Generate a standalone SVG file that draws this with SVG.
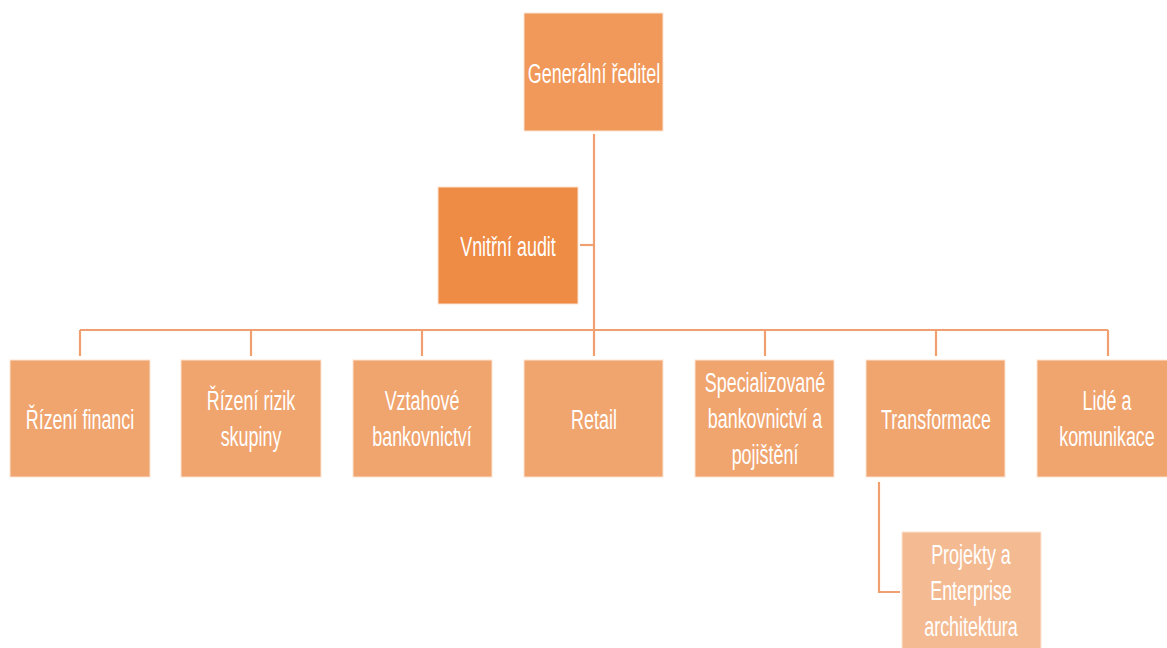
<svg xmlns="http://www.w3.org/2000/svg" width="1167" height="648" viewBox="0 0 1167 648">
  <style>
    .box { stroke: #fbe3d2; stroke-width: 1; }
    .top { fill: #f0995a; }
    .audit { fill: #ee8b45; }
    .unit { fill: #f0a46e; }
    .sub { fill: #f4bb93; }
    .lbl { font-family: "Liberation Sans", Arial, sans-serif; font-size: 28px; fill: #ffffff; text-anchor: middle; }
    .conn { fill: none; stroke: #f0a070; stroke-width: 2.2; }
  </style>
  <rect width="1167" height="648" fill="#ffffff"/>

  <g id="connectors">
    <path class="conn" d="M594 134 V330"/>
    <path class="conn" d="M580 245 H594"/>
    <path class="conn" d="M80 330 H1108"/>
    <path class="conn" d="M80 330 V356 M251 330 V356 M422 330 V356 M594 330 V356 M765 330 V356 M936 330 V356 M1108 330 V356"/>
    <path class="conn" d="M879 482 V592 H900"/>
  </g>

  <!-- labels use a horizontally condensed sans: scale(0.64 1) around the box centre -->
  <g id="node-generalni-reditel">
    <rect class="box top" x="524" y="13" width="139" height="118"/>
    <g transform="translate(594 0) scale(0.64 1)"><text class="lbl" x="0" y="83">Generální ředitel</text></g>
  </g>

  <g id="node-vnitrni-audit">
    <rect class="box audit" x="438" y="187" width="140" height="117"/>
    <g transform="translate(508 0) scale(0.64 1)"><text class="lbl" x="0" y="256">Vnitřní audit</text></g>
  </g>

  <g id="node-rizeni-financi">
    <rect class="box unit" x="10" y="360" width="140" height="117"/>
    <g transform="translate(80 0) scale(0.64 1)"><text class="lbl" x="0" y="429">Řízení financi</text></g>
  </g>

  <g id="node-rizeni-rizik">
    <rect class="box unit" x="181" y="360" width="140" height="117"/>
    <g transform="translate(251 0) scale(0.64 1)"><text class="lbl" x="0" y="410">Řízení rizik</text><text class="lbl" x="0" y="446">skupiny</text></g>
  </g>

  <g id="node-vztahove-bankovnictvi">
    <rect class="box unit" x="353" y="360" width="139" height="117"/>
    <g transform="translate(422 0) scale(0.64 1)"><text class="lbl" x="0" y="410">Vztahové</text><text class="lbl" x="0" y="446">bankovnictví</text></g>
  </g>

  <g id="node-retail">
    <rect class="box unit" x="524" y="360" width="139" height="117"/>
    <g transform="translate(594 0) scale(0.64 1)"><text class="lbl" x="0" y="429">Retail</text></g>
  </g>

  <g id="node-specializovane-bankovnictvi">
    <rect class="box unit" x="695" y="360" width="139" height="117"/>
    <g transform="translate(765 0) scale(0.64 1)"><text class="lbl" x="0" y="392">Specializované</text><text class="lbl" x="0" y="428">bankovnictví a</text><text class="lbl" x="0" y="464">pojištění</text></g>
  </g>

  <g id="node-transformace">
    <rect class="box unit" x="866" y="360" width="139" height="117"/>
    <g transform="translate(936 0) scale(0.64 1)"><text class="lbl" x="0" y="429">Transformace</text></g>
  </g>

  <g id="node-lide-a-komunikace">
    <rect class="box unit" x="1037" y="360" width="140" height="117"/>
    <g transform="translate(1107 0) scale(0.64 1)"><text class="lbl" x="0" y="410">Lidé a</text><text class="lbl" x="0" y="446">komunikace</text></g>
  </g>

  <g id="node-projekty-enterprise">
    <rect class="box sub" x="902" y="532" width="139" height="125"/>
    <g transform="translate(971 0) scale(0.64 1)"><text class="lbl" x="0" y="564">Projekty a</text><text class="lbl" x="0" y="600">Enterprise</text><text class="lbl" x="0" y="636">architektura</text></g>
  </g>
</svg>
